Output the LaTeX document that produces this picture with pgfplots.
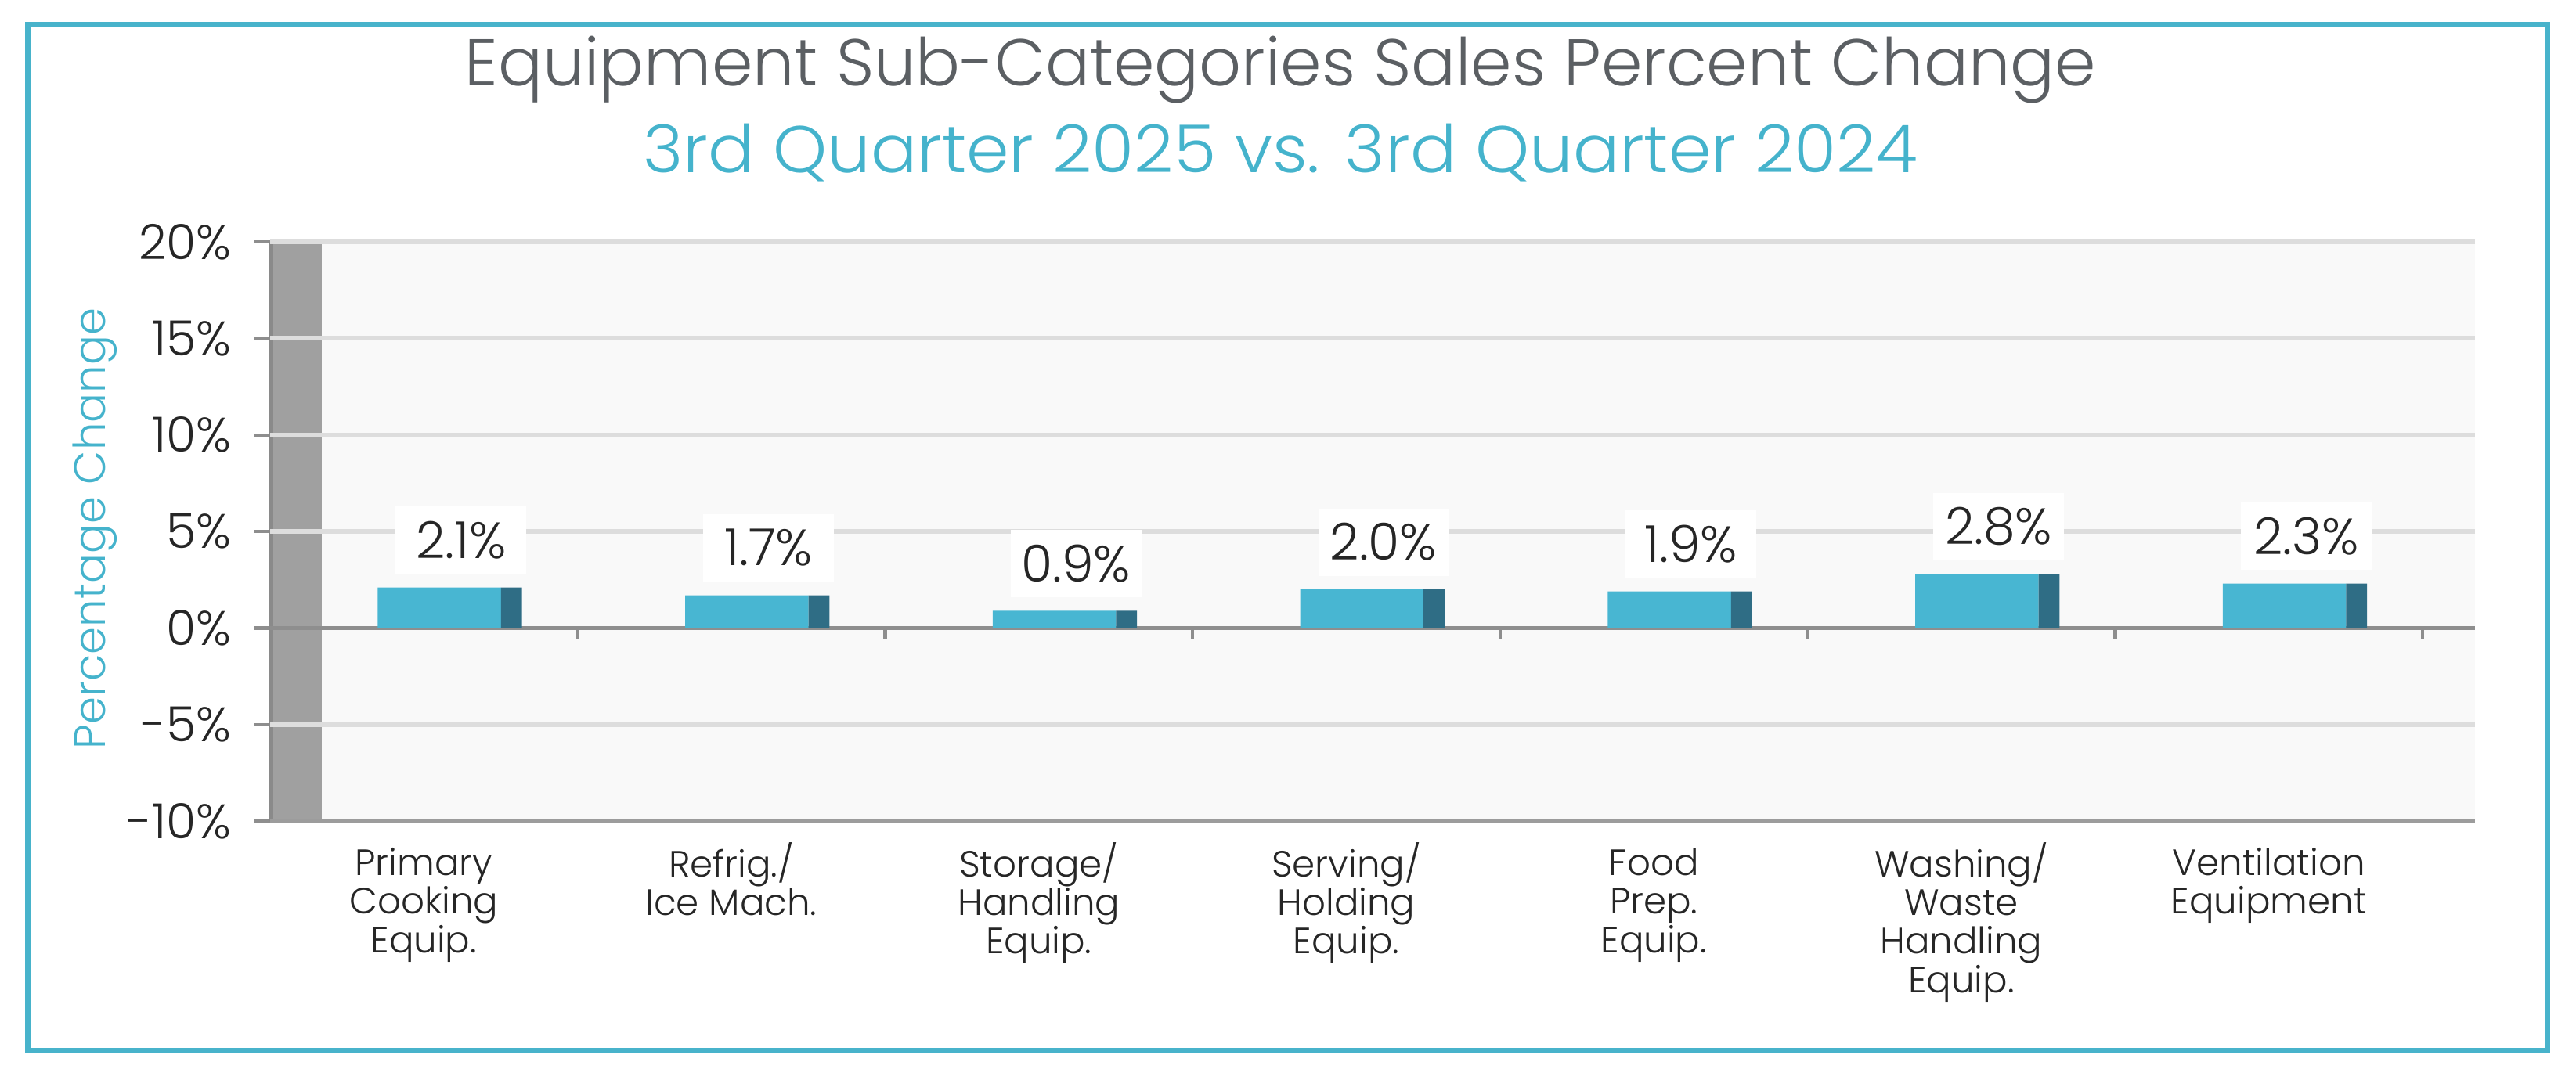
\documentclass[border=0pt]{standalone}
\usepackage{fontspec}
\setmainfont{Poppins}[UprightFont={* Light}]
\usepackage{pgfplots}
\pgfplotsset{compat=1.18}
\definecolor{framecol}{HTML}{48B3CB}
\definecolor{titlegray}{HTML}{5B5F63}
\definecolor{teal}{HTML}{45B3CC}
\definecolor{txt}{HTML}{262626}
\definecolor{barfront}{HTML}{48B6D2}
\definecolor{barside}{HTML}{2F6D85}
\definecolor{wallcol}{HTML}{A0A0A0}
\definecolor{walledge}{HTML}{8A8A8A}
\definecolor{gridcol}{HTML}{DDDDDD}
\definecolor{zerocol}{HTML}{8E8E8E}
\definecolor{floorcol}{HTML}{9C9C9C}
\definecolor{bgcol}{HTML}{F9F9F9}
\begin{document}
\begin{tikzpicture}
\path[use as bounding box] (0,0) rectangle (32.90,13.70);
\draw[line width=0.069cm, framecol] (0.357,0.273) rectangle (32.54,13.381);
\node[anchor=base, text=titlegray, font=\fontsize{24}{28}\selectfont, inner sep=0pt] at (16.354,12.601) {Equipment Sub-Categories Sales Percent Change};
\node[anchor=base, text=teal, font=\fontsize{24}{28}\selectfont, inner sep=0pt, xscale=1.04, transform shape] at (16.354,11.499) {3rd Quarter 2025 vs. 3rd Quarter 2024};
\node[rotate=90, text=teal, font=\fontsize{16}{19}\selectfont, inner sep=0pt] at (1.217,6.944) {Percentage Change};
\begin{axis}[
  at={(3.449cm,3.208cm)}, anchor=south west,
  scale only axis, width=28.16cm, height=7.402cm,
  xmin=0, xmax=7.17, ymin=-10, ymax=20,
  axis line style={draw=none},
  axis background/.style={fill=bgcol},
  /pgf/number format/assume math mode=true,
  ytick={-10,-5,0,5,10,15,20},
  yticklabel={\pgfmathprintnumber{\tick}\%},
  ytick pos=left,
  tick align=outside,
  major tick length=0.197cm,
  ytick style={draw=zerocol, line width=1.2pt},
  yticklabel style={font=\fontsize{17.6}{20}\selectfont, text=txt, inner sep=0pt, xshift=-0.29cm},
  xtick={0.5,1.5,2.5,3.5,4.5,5.5,6.5},
  xtick style={draw=none},
  xticklabels={{\rule{0pt}{12pt}Primary\\Cooking\\Equip.},{\rule{0pt}{12pt}Refrig./\\Ice Mach.},{\rule{0pt}{12pt}Storage/\\Handling\\Equip.},{\rule{0pt}{12pt}Serving/\\Holding\\Equip.},{\rule{0pt}{12pt}Food\\Prep.\\Equip.},{\rule{0pt}{12pt}Washing/\\Waste\\Handling\\Equip.},{\rule{0pt}{12pt}Ventilation\\Equipment}},
  xticklabel style={align=center, anchor=north, font=\fontsize{13.3}{14}\selectfont, text=txt, inner sep=0pt, yshift=-0.07cm},
  clip=false,
]
% back wall (left side)
\fill[wallcol] (axis cs:0,-10) rectangle (axis cs:0.168,20);
\draw[walledge, line width=1.2pt] (axis cs:0.004,-10) -- (axis cs:0.004,20);
% gridlines
\pgfplotsinvokeforeach{-5,5,10,15,20}{
  \draw[gridcol, line width=1.7pt] (axis cs:0,#1) -- (axis cs:7.17,#1);
}
% zero line and floor
\draw[zerocol, line width=1.2pt] (axis cs:0,0) -- (axis cs:7.17,0);
\draw[floorcol, line width=1.8pt] (axis cs:0,-10) -- (axis cs:7.17,-10);
% category ticks
\pgfplotsinvokeforeach{1,...,7}{
  \draw[zerocol, line width=1.2pt] (axis cs:#1,0) -- (axis cs:#1,-0.6);
}
\addplot[ybar, bar width=0.401, bar shift=0.0505, fill=barfront, draw=none,
  nodes near coords={\pgfmathprintnumber[fixed,fixed zerofill,precision=1]{\pgfplotspointmeta}\%},
  nodes near coords style={font=\fontsize{18.5}{20}\selectfont, text=txt, fill=white, inner sep=0pt, minimum width=1.668cm, minimum height=0.86cm, anchor=south, yshift=0.168cm, xshift=0.475cm}]
  coordinates {(0.5,2.1) (1.5,1.7) (2.5,0.9) (3.5,2.0) (4.5,1.9) (5.5,2.8) (6.5,2.3)};
\addplot[ybar, bar width=0.068, bar shift=0.285, fill=barside, draw=none]
  coordinates {(0.5,2.1) (1.5,1.7) (2.5,0.9) (3.5,2.0) (4.5,1.9) (5.5,2.8) (6.5,2.3)};
\end{axis}
\end{tikzpicture}
\end{document}
